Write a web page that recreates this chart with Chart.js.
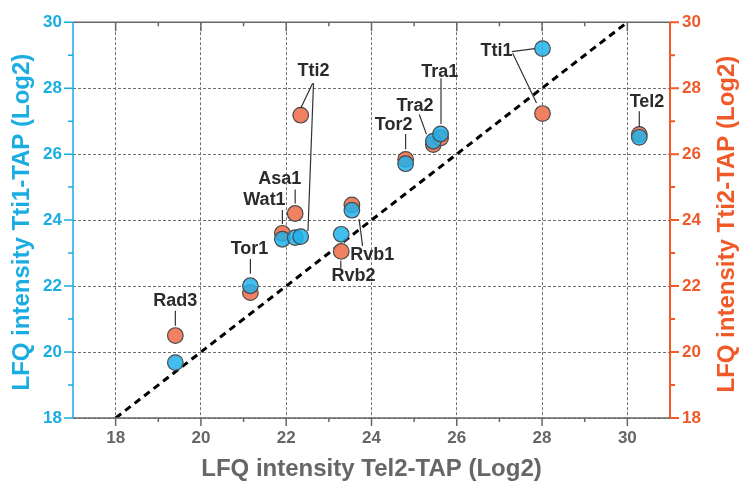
<!DOCTYPE html>
<html>
<head>
<meta charset="utf-8">
<script src="https://cdn.jsdelivr.net/npm/chart.js@4.4.1/dist/chart.umd.min.js"></script>
<style>
body{margin:0;background:#fff;}
canvas{display:block;}
</style>
</head>
<body>
<canvas id="myChart" width="739" height="494"></canvas>
<script>
// values
var proteins = ['Rad3','Tor1','Wat1','Asa1','Tti2','Rvb2','Rvb1','Tor2','Tra2','Tra1','Tti1','Tel2'];
var tel2TAP  = [19.40, 21.16, 21.91, 22.21, 22.34, 23.29, 23.54, 24.80, 25.45, 25.62, 28.01, 30.28];
var tti1TAP  = [19.68, 22.01, 23.42, 23.47, 23.50, 23.57, 24.30, 25.71, 26.39, 26.61, 29.20, 26.51];
var tti2TAP  = [20.50, 21.80, 23.60, 24.20, 27.18, 23.05, 24.46, 25.84, 26.29, 26.49, 27.23, 26.60];
var tickValues = [18, 20, 22, 24, 26, 28, 30];

var BLUE = '#19ade2';
var ORANGE = '#f05a28';
var GREY = '#666666';

// label text spot and leader lines, in data units
var labels = {
  Rad3: { at: [19.40, 21.54], lines: [[19.40, 21.25, 19.40, 20.80]] },
  Tor1: { at: [21.14, 23.13], lines: [[21.16, 22.82, 21.16, 22.37]] },
  Wat1: { at: [21.49, 24.61], lines: [[21.91, 24.31, 21.91, 23.88]] },
  Asa1: { at: [21.85, 25.24], lines: [[22.21, 24.93, 22.21, 24.50]] },
  Tti2: { at: [22.64, 28.51], lines: [[22.62, 28.15, 22.34, 27.39], [22.64, 28.15, 22.51, 23.67]] },
  Rvb2: { at: [23.58, 22.29], lines: [[23.28, 22.77, 23.28, 22.55]] },
  Rvb1: { at: [24.02, 22.95], lines: [[23.71, 24.03, 23.79, 23.22]] },
  Tor2: { at: [24.52, 26.88], lines: [[24.80, 26.61, 24.80, 26.15]] },
  Tra2: { at: [25.02, 27.45], lines: [[25.12, 27.20, 25.29, 26.60]] },
  Tra1: { at: [25.60, 28.49], lines: [[25.63, 28.30, 25.63, 26.91]] },
  Tti1: { at: [26.93, 29.14], lines: [[27.29, 29.11, 27.83, 29.20], [27.31, 29.06, 27.87, 27.55]] },
  Tel2: { at: [30.46, 27.58], lines: [[30.28, 27.30, 30.28, 26.82]] }
};

function points(xs, ys){
  return xs.map(function(x, i){ return {x: x, y: ys[i]}; });
}

function gridColor(c){
  if (c.tick && tickValues.indexOf(c.tick.value) >= 0) return '#707070';
  return 'rgba(0,0,0,0)';
}
function tickText(v){
  return tickValues.indexOf(v) >= 0 ? v : '';
}

var decor = {
  id: 'decor',
  afterDatasetsDraw: function(chart){
    var ctx = chart.ctx, xs = chart.scales.x, ys = chart.scales.y;
    ctx.save();
    ctx.strokeStyle = '#333';
    ctx.lineWidth = 1.2;
    ctx.fillStyle = '#2b2b2b';
    ctx.font = 'bold 18px "Liberation Sans", Arial, sans-serif';
    ctx.textAlign = 'center';
    ctx.textBaseline = 'middle';
    proteins.forEach(function(p){
      var l = labels[p];
      l.lines.forEach(function(s){
        ctx.beginPath();
        ctx.moveTo(xs.getPixelForValue(s[0]), ys.getPixelForValue(s[1]));
        ctx.lineTo(xs.getPixelForValue(s[2]), ys.getPixelForValue(s[3]));
        ctx.stroke();
      });
      ctx.fillText(p, xs.getPixelForValue(l.at[0]), ys.getPixelForValue(l.at[1]));
    });
    ctx.restore();
  },
  afterDraw: function(chart){
    var ctx = chart.ctx, a = chart.chartArea;
    var xs = chart.scales.x, ys = chart.scales.y;
    ctx.save();
    // top and bottom frame
    ctx.strokeStyle = GREY;
    ctx.lineWidth = 1.5;
    ctx.beginPath();
    ctx.moveTo(a.left, a.top); ctx.lineTo(a.right, a.top);
    ctx.moveTo(a.left, a.bottom); ctx.lineTo(a.right, a.bottom);
    for (var v = 18; v <= 30; v++) {
      var px = xs.getPixelForValue(v);
      var big = v % 2 === 0;
      ctx.moveTo(px, a.bottom); ctx.lineTo(px, a.bottom + (big ? 8 : 4));
      ctx.moveTo(px, a.top); ctx.lineTo(px, a.top + (big ? 9 : 4));
    }
    ctx.stroke();
    // left axis
    ctx.strokeStyle = BLUE;
    ctx.beginPath();
    ctx.moveTo(a.left, a.top); ctx.lineTo(a.left, a.bottom);
    for (v = 18; v <= 30; v++) {
      var py = ys.getPixelForValue(v);
      ctx.moveTo(a.left, py); ctx.lineTo(a.left - (v % 2 === 0 ? 9 : 5), py);
    }
    ctx.stroke();
    // right axis
    ctx.strokeStyle = ORANGE;
    ctx.lineWidth = 2;
    ctx.beginPath();
    ctx.moveTo(a.right, a.top); ctx.lineTo(a.right, a.bottom);
    for (v = 18; v <= 30; v++) {
      py = ys.getPixelForValue(v);
      ctx.moveTo(a.right, py); ctx.lineTo(a.right + (v % 2 === 0 ? 9 : 5), py);
    }
    ctx.stroke();
    // axis titles
    var midY = (a.top + a.bottom) / 2;
    ctx.font = 'bold 24px "Liberation Sans", Arial, sans-serif';
    ctx.textAlign = 'center';
    ctx.textBaseline = 'middle';
    ctx.fillStyle = GREY;
    ctx.fillText('LFQ intensity Tel2-TAP (Log2)', (a.left + a.right) / 2, 469);
    ctx.save();
    ctx.translate(22, midY + 2);
    ctx.rotate(-Math.PI / 2);
    ctx.fillStyle = BLUE;
    ctx.fillText('LFQ intensity Tti1-TAP (Log2)', 0, 0);
    ctx.restore();
    ctx.save();
    ctx.translate(727, midY + 4);
    ctx.rotate(-Math.PI / 2);
    ctx.fillStyle = ORANGE;
    ctx.fillText('LFQ intensity Tti2-TAP (Log2)', 0, 0);
    ctx.restore();
    ctx.restore();
  }
};

var tickFont = { family: '"Liberation Sans", Arial, sans-serif', size: 17, weight: 'bold' };

var ctx = document.getElementById('myChart');
var myChart = new Chart(ctx, {
  type: 'scatter',
  data: {
    datasets: [
      {
        label: 'Tti1-TAP',
        data: points(tel2TAP, tti1TAP),
        yAxisID: 'y',
        backgroundColor: 'rgba(32,178,235,0.85)',
        borderColor: '#4a4a4a',
        borderWidth: 1.2,
        pointRadius: 7.8,
        order: 0
      },
      {
        label: 'Tti2-TAP',
        data: points(tel2TAP, tti2TAP),
        yAxisID: 'y2',
        backgroundColor: 'rgba(240,122,88,0.95)',
        borderColor: '#4a4a4a',
        borderWidth: 1.2,
        pointRadius: 7.8,
        order: 1
      },
      {
        label: 'y = x',
        data: [{x: 18, y: 18}, {x: 30, y: 30}],
        yAxisID: 'y',
        showLine: true,
        borderColor: '#000',
        borderWidth: 3,
        borderDash: [7, 5],
        pointRadius: 0,
        order: 2
      }
    ]
  },
  options: {
    responsive: false,
    animation: false,
    devicePixelRatio: 1,
    layout: { padding: { top: 20, left: 0, right: 0, bottom: 0 } },
    plugins: { legend: { display: false }, tooltip: { enabled: false } },
    scales: {
      x: {
        type: 'linear', min: 17, max: 31,
        afterFit: function(s){ s.height = 76; },
        grid: { color: gridColor, lineWidth: 1, drawTicks: false, borderDash: [3, 2] },
        border: { display: false, dash: [3, 2] },
        ticks: { stepSize: 1, autoSkip: false, maxRotation: 0, callback: tickText, color: GREY, font: tickFont, padding: 10 }
      },
      y: {
        type: 'linear', position: 'left', min: 18, max: 30,
        afterFit: function(s){ s.width = 73; },
        grid: { color: gridColor, lineWidth: 1, drawTicks: false, borderDash: [3, 2] },
        border: { display: false, dash: [3, 2] },
        ticks: { stepSize: 1, autoSkip: false, callback: tickText, color: BLUE, font: tickFont, padding: 11 }
      },
      y2: {
        type: 'linear', position: 'right', min: 18, max: 30,
        afterFit: function(s){ s.width = 69; },
        grid: { drawOnChartArea: false, drawTicks: false },
        border: { display: false },
        ticks: { stepSize: 1, autoSkip: false, callback: tickText, color: ORANGE, font: tickFont, padding: 12 }
      }
    }
  },
  plugins: [decor]
});
</script>
</body>
</html>
